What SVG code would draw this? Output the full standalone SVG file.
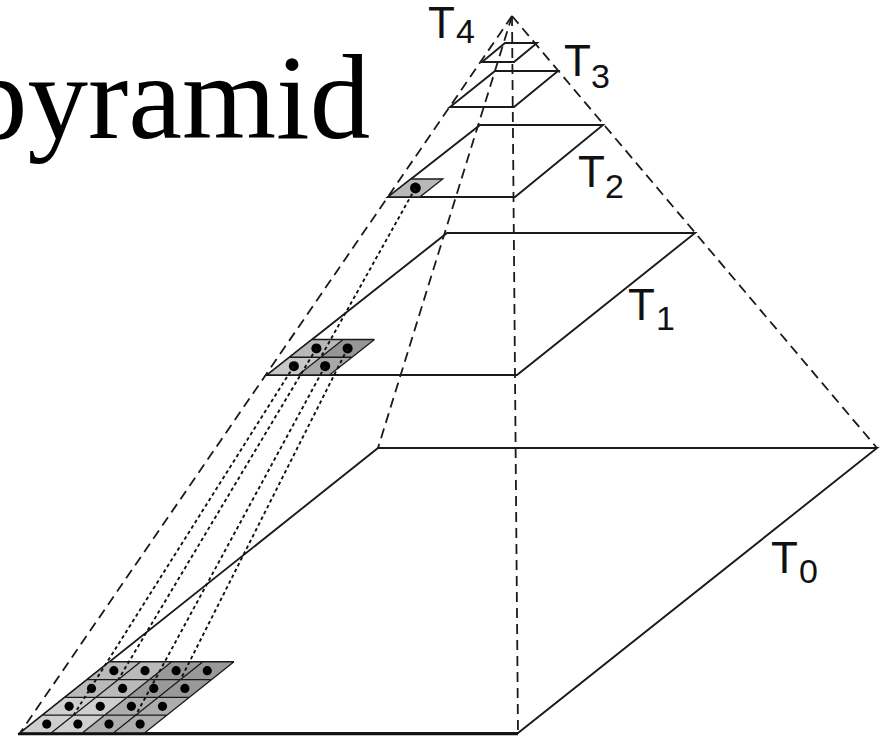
<svg xmlns="http://www.w3.org/2000/svg" width="880" height="740" viewBox="0 0 880 740">
<style>
.lvl{fill:none;stroke:#1a1a1a;stroke-width:1.9;stroke-linejoin:miter}
.edge{fill:none;stroke:#1a1a1a;stroke-width:1.8;stroke-dasharray:10 6}
.dot-line{fill:none;stroke:#111;stroke-width:1.9;stroke-dasharray:3.5 3}
.grid{fill:none;stroke:#1a1a1a;stroke-width:1.3}
.dot{fill:#000}
.lab{font-family:"Liberation Sans",Arial,sans-serif;font-size:44px;fill:#111}
.sub{font-family:"Liberation Sans",Arial,sans-serif;font-size:34px;fill:#111}
.title{font-family:"Liberation Serif","Times New Roman",serif;font-size:121px;fill:#000}
</style>
<rect width="880" height="740" fill="#fff"/>
<text class="title" x="-33" y="138">pyramid</text>

<g id="level-T0">
  <polygon class="lvl" points="20,733 518,733 877,448 378,448"/>
  <polygon points="20,733 82.25,733 127,697.375 64.75,697.375" fill="#cfcfcf"/>
  <polygon points="82.25,733 144.5,733 189.25,697.375 127,697.375" fill="#adadad"/>
  <polygon points="64.75,697.375 127,697.375 171.75,661.75 109.5,661.75" fill="#bababa"/>
  <polygon points="127,697.375 189.25,697.375 234,661.75 171.75,661.75" fill="#999"/>
  <path class="grid" d="M20,733H144.5 M42.375,715.19H166.875 M64.75,697.375H189.25 M87.125,679.56H211.625 M109.5,661.75H234 M20,733L109.5,661.75 M51.125,733L140.625,661.75 M82.25,733L171.75,661.75 M113.375,733L202.875,661.75 M144.5,733L234,661.75"/>
  <g class="dot">
    <circle cx="46.75" cy="724.09" r="4.6"/><circle cx="77.875" cy="724.09" r="4.6"/><circle cx="109" cy="724.09" r="4.6"/><circle cx="140.125" cy="724.09" r="4.6"/>
    <circle cx="69.125" cy="706.28" r="4.6"/><circle cx="100.25" cy="706.28" r="4.6"/><circle cx="131.375" cy="706.28" r="4.6"/><circle cx="162.5" cy="706.28" r="4.6"/>
    <circle cx="91.5" cy="688.47" r="4.6"/><circle cx="122.625" cy="688.47" r="4.6"/><circle cx="153.75" cy="688.47" r="4.6"/><circle cx="184.875" cy="688.47" r="4.6"/>
    <circle cx="113.875" cy="670.66" r="4.6"/><circle cx="145" cy="670.66" r="4.6"/><circle cx="176.125" cy="670.66" r="4.6"/><circle cx="207.25" cy="670.66" r="4.6"/>
  </g>
  <line x1="18" y1="734" x2="518" y2="734" stroke="#111" stroke-width="2.6"/>
</g>

<g id="level-T1">
  <polygon class="lvl" points="267,375 517,375 695,233 447,233"/>
  <polygon points="267,375 298.25,375 320.75,357.25 289.5,357.25" fill="#c8c8c8"/>
  <polygon points="298.25,375 329.5,375 352,357.25 320.75,357.25" fill="#a8a8a8"/>
  <polygon points="289.5,357.25 320.75,357.25 343.25,339.5 312,339.5" fill="#b8b8b8"/>
  <polygon points="320.75,357.25 352,357.25 374.5,339.5 343.25,339.5" fill="#969696"/>
  <path class="grid" d="M267,375H329.5 M289.5,357.25H352 M312,339.5H374.5 M267,375L312,339.5 M298.25,375L343.25,339.5 M329.5,375L374.5,339.5"/>
  <g class="dot">
    <circle cx="293.875" cy="366.125" r="5"/><circle cx="325.125" cy="366.125" r="5"/>
    <circle cx="316.375" cy="348.375" r="5"/><circle cx="347.625" cy="348.375" r="5"/>
  </g>
</g>

<g id="level-T2">
  <polygon class="lvl" points="388,197 515,197 603,125 480,125"/>
  <polygon points="388,197 419.75,197 442.75,179 411,179" fill="#b8b8b8"/>
  <polygon class="grid" points="388,197 419.75,197 442.75,179 411,179"/>
  <circle class="dot" cx="415.4" cy="188" r="5.4"/>
</g>

<g id="level-T3">
  <polygon class="lvl" points="450,107 514,107 558,71 495,71"/>
</g>

<g id="level-T4">
  <polygon class="lvl" points="482,62 514,62 537,43 505,43"/>
</g>

<g id="connectors">
  <line class="edge" x1="512" y1="16" x2="20" y2="733"/>
  <line class="edge" x1="512" y1="16" x2="877" y2="448"/>
  <line class="edge" x1="512" y1="16" x2="378" y2="448"/>
  <line class="edge" x1="512" y1="16" x2="518" y2="733"/>
  <line class="dot-line" x1="415.4" y1="188" x2="320.75" y2="357.25"/>
  <line class="dot-line" x1="293.875" y1="366.125" x2="73.5" y2="715.2"/>
  <line class="dot-line" x1="325.125" y1="366.125" x2="135.75" y2="715.2"/>
  <line class="dot-line" x1="316.375" y1="348.375" x2="118.25" y2="679.6"/>
  <line class="dot-line" x1="347.625" y1="348.375" x2="180.5" y2="679.6"/>
</g>

<g id="labels">
  <text class="lab" x="428" y="38">T</text><text class="sub" x="456" y="43">4</text>
  <text class="lab" x="564" y="76">T</text><text class="sub" x="591" y="88">3</text>
  <text class="lab" x="578" y="187">T</text><text class="sub" x="605" y="198">2</text>
  <text class="lab" x="628" y="320">T</text><text class="sub" x="656" y="330">1</text>
  <text class="lab" x="771" y="573">T</text><text class="sub" x="799" y="583">0</text>
</g>
</svg>
